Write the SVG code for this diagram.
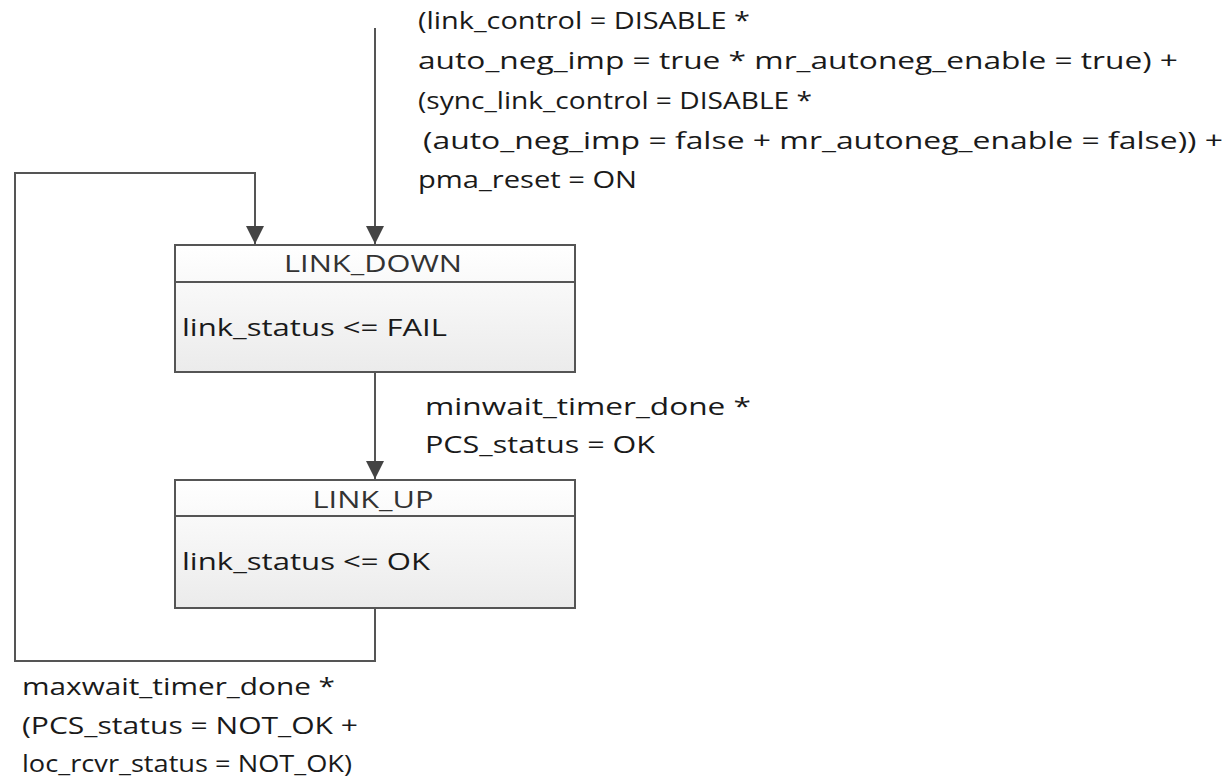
<svg xmlns="http://www.w3.org/2000/svg" width="1229" height="779" viewBox="0 0 1229 779">
<defs>
<linearGradient id="fill" x1="0" y1="0" x2="0" y2="1">
<stop offset="0" stop-color="#ffffff"/>
<stop offset="1" stop-color="#ebebeb"/>
</linearGradient>
<marker id="arr" markerWidth="20" markerHeight="20" refX="18" refY="10" orient="auto" markerUnits="userSpaceOnUse">
<path d="M0,1 L18,10 L0,19 Z" fill="#444"/>
</marker>
</defs>
<style>
text{font-family:"Open Sans","DejaVu Sans",sans-serif;font-size:24px;fill:#1a1a1a}
.box{fill:url(#fill);stroke:#555;stroke-width:2}
.sep{stroke:#555;stroke-width:2}
.con{fill:none;stroke:#555;stroke-width:2}
.title{text-anchor:middle;fill:#333}
</style>
<rect width="1229" height="779" fill="#fff"/>
<g id="connectors">
<path class="con" d="M375,28 V244" marker-end="url(#arr)"/>
<path class="con" d="M375,372 V479" marker-end="url(#arr)"/>
<path class="con" d="M375,608 V661 H15 V173 H255 V244" marker-end="url(#arr)"/>
</g>
<g id="LINK_DOWN">
<rect class="box" x="175" y="245" width="400" height="127"/>
<line class="sep" x1="175" y1="282" x2="575" y2="282"/>
<text class="title" x="373" y="272" textLength="178" lengthAdjust="spacingAndGlyphs">LINK_DOWN</text>
<text x="182" y="336" textLength="265" lengthAdjust="spacingAndGlyphs">link_status &lt;= FAIL</text>
</g>
<g id="LINK_UP">
<rect class="box" x="175" y="480" width="400" height="128"/>
<line class="sep" x1="175" y1="516" x2="575" y2="516"/>
<text class="title" x="373" y="508" textLength="121" lengthAdjust="spacingAndGlyphs">LINK_UP</text>
<text x="182" y="570" textLength="248" lengthAdjust="spacingAndGlyphs">link_status &lt;= OK</text>
</g>
<g id="labels">
<text x="418" y="29" textLength="332" lengthAdjust="spacingAndGlyphs">(link_control = DISABLE *</text>
<text x="418" y="69" textLength="760" lengthAdjust="spacingAndGlyphs">auto_neg_imp = true * mr_autoneg_enable = true) +</text>
<text x="418" y="109" textLength="394" lengthAdjust="spacingAndGlyphs">(sync_link_control = DISABLE *</text>
<text x="423" y="149" textLength="800" lengthAdjust="spacingAndGlyphs">(auto_neg_imp = false + mr_autoneg_enable = false)) +</text>
<text x="418" y="188" textLength="219" lengthAdjust="spacingAndGlyphs">pma_reset = ON</text>
<text x="425" y="415" textLength="326" lengthAdjust="spacingAndGlyphs">minwait_timer_done *</text>
<text x="425" y="453" textLength="230" lengthAdjust="spacingAndGlyphs">PCS_status = OK</text>
<text x="22" y="695" textLength="313" lengthAdjust="spacingAndGlyphs">maxwait_timer_done *</text>
<text x="22" y="734" textLength="336" lengthAdjust="spacingAndGlyphs">(PCS_status = NOT_OK +</text>
<text x="22" y="772" textLength="330" lengthAdjust="spacingAndGlyphs">loc_rcvr_status = NOT_OK)</text>
</g>
</svg>
